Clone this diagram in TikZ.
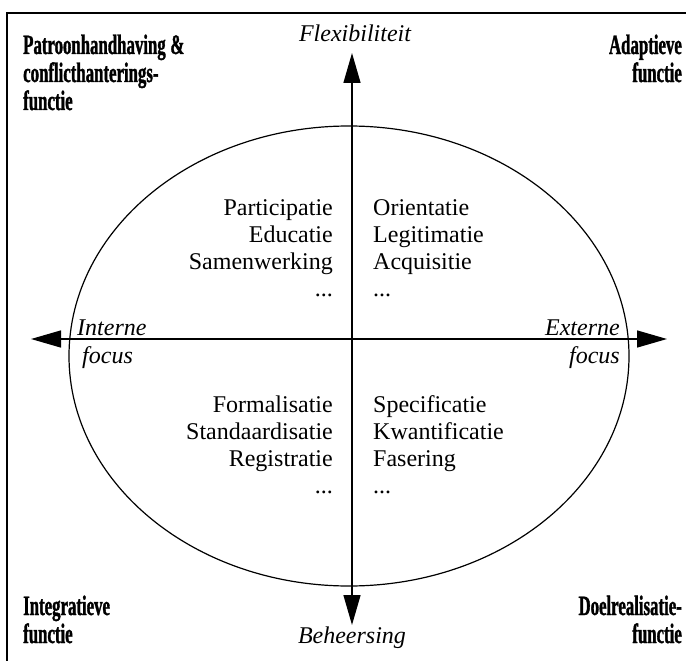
\documentclass[tikz,border=0pt]{standalone}
\usepackage{fontspec}
\setmainfont{Liberation Serif}
\newfontfamily\cbold{Liberation Serif}[FakeStretch=0.6,BoldFeatures={FakeBold=1.2}]
\usetikzlibrary{arrows.meta}
\begin{document}
\begin{tikzpicture}[x=1pt,y=-1pt,
  axis/.style={line width=1.4pt,{Triangle[length=30pt,width=17pt]}-{Triangle[length=30pt,width=17pt]}},
  reg/.style={inner sep=0pt,font=\fontsize{24}{27}\selectfont},
  ital/.style={inner sep=0pt,font=\fontsize{24}{30}\selectfont\itshape},
  corner/.style={inner sep=0pt,font=\fontsize{28}{28}\selectfont\cbold\bfseries}]
\useasboundingbox (0,0) rectangle (686,661);
\draw[line width=1.6pt] (7,661) -- (7,13) -- (686,13);
\draw[line width=1.2pt] (349,356) ellipse [x radius=280, y radius=230];
\coordinate (top) at (352,53);
\coordinate (bot) at (352,625);
\coordinate (lft) at (31,339);
\coordinate (rgt) at (667,339);
\draw[axis] (bot) -- (top);
\draw[axis] (lft) -- (rgt);
\node[ital] (flex) at (355,33) {Flexibiliteit};
\node[ital] (beh) at (352,638) {Beheersing};
\node[ital,anchor=base west] (int) at (77,335) {Interne};
\node[ital,anchor=base west] (intf) at (82,363) {focus};
\node[ital,anchor=base east] (ext) at (620,335) {Externe};
\node[ital,anchor=base east] (extf) at (620,363) {focus};
\node[reg,anchor=base east,align=right] (tl) at (333,296) {Participatie\\Educatie\\Samenwerking\\...};
\node[reg,anchor=base west,align=left] (tr) at (373,296) {Orientatie\\Legitimatie\\Acquisitie\\...};
\node[reg,anchor=base east,align=right] (bl) at (333,493) {Formalisatie\\Standaardisatie\\Registratie\\...};
\node[reg,anchor=base west,align=left] (br) at (373,493) {Specificatie\\Kwantificatie\\Fasering\\...};
\node[corner,anchor=base west,align=left] (c1) at (23,110) {Patroonhandhaving\,\&\\conflicthanterings-\\functie};
\node[corner,anchor=base east,align=right] (c2) at (682,82) {Adaptieve\\functie};
\node[corner,anchor=base west,align=left] (c3) at (23,643) {Integratieve\\functie};
\node[corner,anchor=base east,align=right] (c4) at (682,643) {Doelrealisatie-\\functie};
\end{tikzpicture}
\end{document}
